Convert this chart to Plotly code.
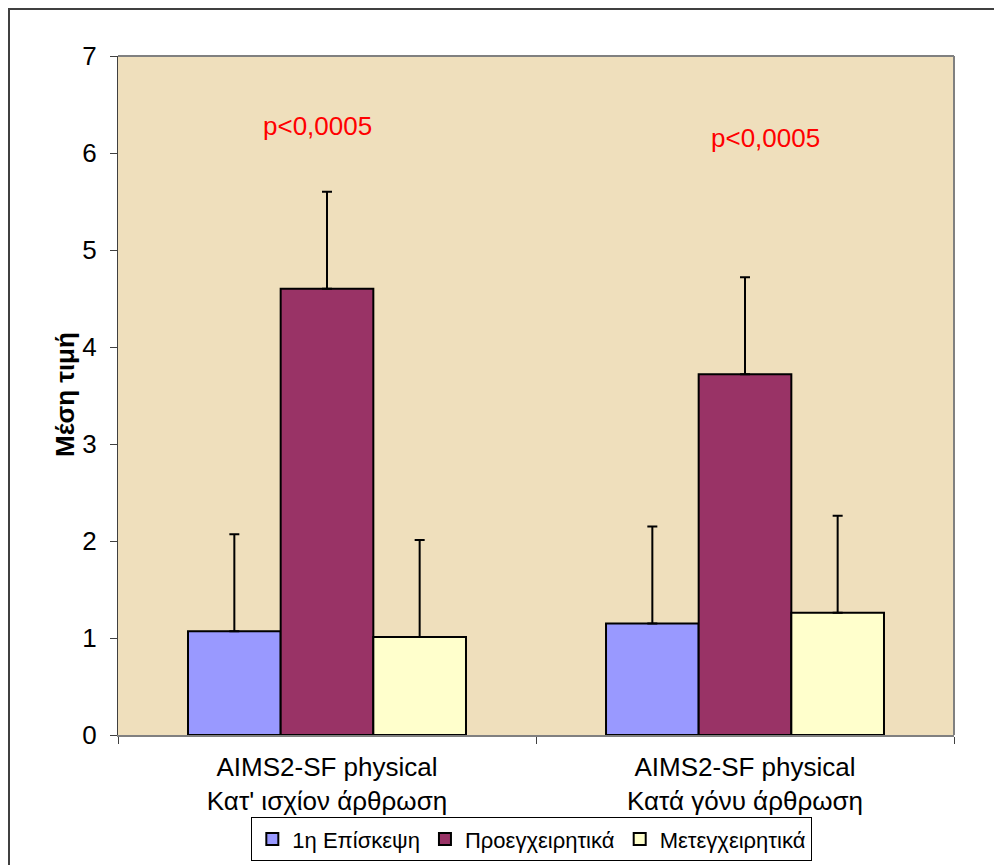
import plotly.graph_objects as go

categories = ["AIMS2-SF physical<br>Κατ' ισχίον άρθρωση", "AIMS2-SF physical<br>Κατά γόνυ άρθρωση"]
series_names = ["1η Επίσκεψη", "Προεγχειρητικά", "Μετεγχειρητικά"]
means_visit1 = [1.07, 1.15]
means_preop = [4.60, 3.72]
means_postop = [1.01, 1.26]
sd_visit1 = [1.0, 1.0]
sd_preop = [1.0, 1.0]
sd_postop = [1.0, 1.0]
colors = ["#9999FF", "#993366", "#FFFFCC"]
p_labels = ["p<0,0005", "p<0,0005"]
p_y = [6.28, 6.15]
yticks = [0, 1, 2, 3, 4, 5, 6, 7]

# page body adds an 8px offset, so the figure is 8px smaller than the window
W, H = 994, 857
L, R, T, B = 110, 48, 48, 130
pw, ph = W - L - R, H - T - B

fig = go.Figure()
for name, vals, sds, col in zip(series_names, [means_visit1, means_preop, means_postop],
                                [sd_visit1, sd_preop, sd_postop], colors):
    fig.add_trace(go.Bar(
        x=categories, y=vals, name=name,
        marker=dict(color=col, line=dict(color="black", width=2)),
        error_y=dict(type="data", array=sds, symmetric=False, arrayminus=[0] * len(sds),
                     color="black", thickness=2, width=5),
    ))

font = "Liberation Sans, Arial, sans-serif"
fig.update_layout(
    width=W, height=H,
    margin=dict(l=L, r=R, t=T, b=B, autoexpand=False),
    barmode="group", bargap=0.335, bargroupgap=0,
    paper_bgcolor="white", plot_bgcolor="#EFDFBC",
    font=dict(family=font, color="black"),
    showlegend=True,
    legend=dict(orientation="h", x=0.495, xanchor="center", y=-0.121, yanchor="top",
                bordercolor="black", borderwidth=1, bgcolor="white",
                font=dict(size=22, family=font), itemwidth=30, traceorder="normal"),
    xaxis=dict(showgrid=False, showline=True, linecolor="#808080", linewidth=2,
               ticks="outside", tickson="boundaries", ticklen=7, tickcolor="#404040",
               ticklabelstandoff=8,
               tickfont=dict(size=26, family=font), mirror=False),
    yaxis=dict(range=[0, 7], tickvals=yticks, showgrid=False, showline=True,
               linecolor="#404040", linewidth=1, ticks="outside", ticklen=7,
               ticklabelstandoff=8,
               tickcolor="#404040", tickfont=dict(size=26, family=font), zeroline=False),
)

# right and top plot borders (gray)
fig.add_shape(type="line", xref="paper", yref="paper", x0=0, x1=1, y0=1, y1=1,
              line=dict(color="#808080", width=2))
fig.add_shape(type="line", xref="paper", yref="paper", x0=1, x1=1, y0=0, y1=1,
              line=dict(color="#808080", width=2))
# outer chart border (left and top edges visible)
fig.add_shape(type="rect", xref="paper", yref="paper",
              x0=(1 - L) / pw, x1=(W + 20 - L) / pw,
              y0=-(B + 20) / ph, y1=1 + (T - 1) / ph,
              line=dict(color="#404040", width=2))

# y axis title
fig.add_annotation(text="<b>Μέση τιμή</b>", xref="paper", yref="paper",
                   x=(40 - L) / pw, y=(727 - 387) / ph, textangle=-90,
                   showarrow=False, font=dict(size=26, family=font, color="black"))

for i, (txt, yv) in enumerate(zip(p_labels, p_y)):
    shift = -10 if i == 0 else 20
    fig.add_annotation(text=txt, x=categories[i], y=yv, xshift=shift, showarrow=False,
                       font=dict(size=26, family=font, color="#FF0000"))

fig.write_html("out.html")
